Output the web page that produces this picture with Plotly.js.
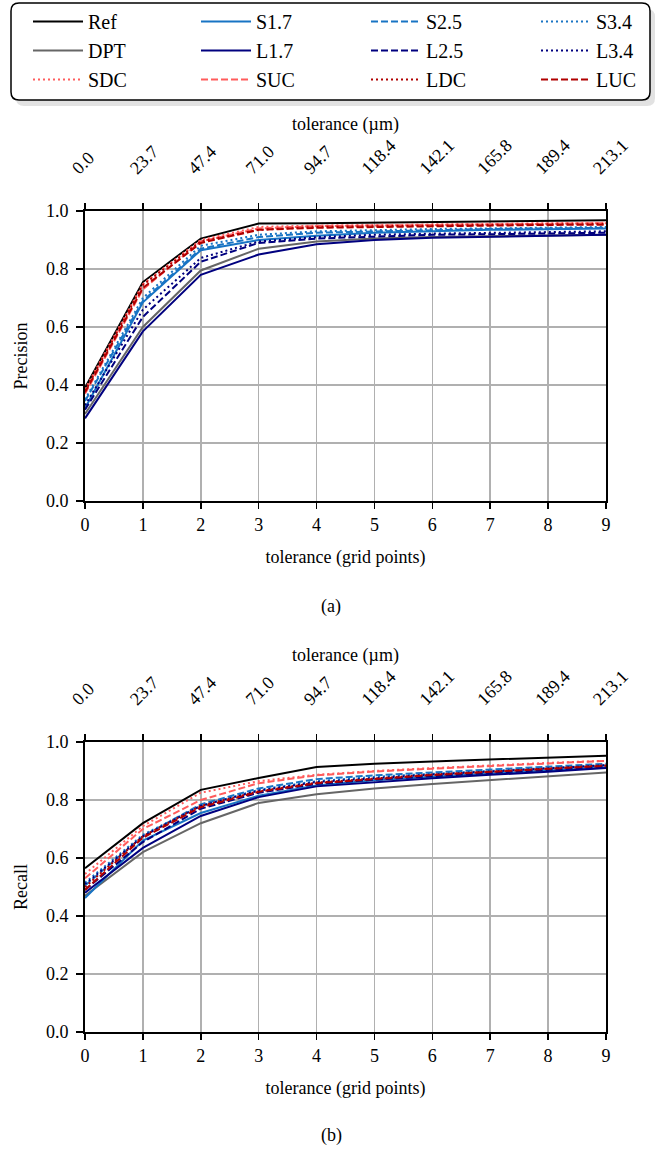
<!DOCTYPE html>
<html>
<head>
<meta charset="utf-8">
<script src="https://cdn.plot.ly/plotly-3.0.1.min.js"></script>
<style>html,body{margin:0;padding:0;background:#fff;}#chart{width:659px;height:1150px;}</style>
</head>
<body>
<div id="chart"></div>
<script>
// ---- data ----
const gridPoints = [0, 1, 2, 3, 4, 5, 6, 7, 8, 9];
const umLabels = ['0.0', '23.7', '47.4', '71.0', '94.7', '118.4', '142.1', '165.8', '189.4', '213.1'];
const yTicks = [0, 0.2, 0.4, 0.6, 0.8, 1.0];
const yTickLabels = ['0.0', '0.2', '0.4', '0.6', '0.8', '1.0'];

// precision (a)
const precRef  = [0.39, 0.755, 0.905, 0.957, 0.958, 0.960, 0.962, 0.964, 0.966, 0.968];
const precDPT  = [0.30, 0.600, 0.795, 0.870, 0.895, 0.905, 0.910, 0.912, 0.915, 0.918];
const precSDC  = [0.385, 0.748, 0.900, 0.945, 0.950, 0.952, 0.955, 0.957, 0.958, 0.960];
const precS17  = [0.32, 0.685, 0.865, 0.900, 0.915, 0.925, 0.930, 0.935, 0.937, 0.940];
const precL17  = [0.285, 0.585, 0.780, 0.850, 0.885, 0.900, 0.908, 0.912, 0.915, 0.918];
const precSUC  = [0.37, 0.730, 0.895, 0.940, 0.948, 0.950, 0.953, 0.955, 0.957, 0.958];
const precS25  = [0.345, 0.690, 0.870, 0.910, 0.925, 0.930, 0.935, 0.938, 0.940, 0.942];
const precL25  = [0.315, 0.635, 0.825, 0.890, 0.905, 0.912, 0.918, 0.920, 0.922, 0.925];
const precLDC  = [0.38, 0.745, 0.895, 0.935, 0.945, 0.948, 0.950, 0.952, 0.954, 0.955];
const precS34  = [0.35, 0.700, 0.880, 0.918, 0.930, 0.935, 0.938, 0.940, 0.943, 0.945];
const precL34  = [0.33, 0.660, 0.838, 0.895, 0.910, 0.918, 0.922, 0.925, 0.928, 0.930];
const precLUC  = [0.375, 0.735, 0.890, 0.935, 0.942, 0.945, 0.948, 0.950, 0.952, 0.953];

// recall (b)
const recRef  = [0.565, 0.720, 0.835, 0.876, 0.914, 0.925, 0.933, 0.940, 0.946, 0.953];
const recDPT  = [0.470, 0.620, 0.720, 0.790, 0.820, 0.840, 0.855, 0.868, 0.880, 0.895];
const recSDC  = [0.545, 0.710, 0.825, 0.865, 0.887, 0.900, 0.910, 0.920, 0.928, 0.935];
const recS17  = [0.462, 0.660, 0.755, 0.815, 0.850, 0.868, 0.880, 0.892, 0.902, 0.912];
const recL17  = [0.480, 0.635, 0.745, 0.810, 0.847, 0.862, 0.875, 0.887, 0.897, 0.910];
const recSUC  = [0.530, 0.700, 0.800, 0.858, 0.885, 0.898, 0.908, 0.918, 0.926, 0.935];
const recS25  = [0.505, 0.675, 0.785, 0.840, 0.872, 0.885, 0.895, 0.905, 0.915, 0.925];
const recL25  = [0.490, 0.655, 0.770, 0.825, 0.855, 0.870, 0.882, 0.893, 0.903, 0.915];
const recLDC  = [0.500, 0.675, 0.780, 0.830, 0.860, 0.875, 0.888, 0.898, 0.908, 0.920];
const recS34  = [0.515, 0.680, 0.780, 0.835, 0.865, 0.880, 0.890, 0.900, 0.910, 0.920];
const recL34  = [0.510, 0.675, 0.780, 0.832, 0.862, 0.876, 0.888, 0.898, 0.908, 0.920];
const recLUC  = [0.490, 0.670, 0.775, 0.828, 0.858, 0.873, 0.886, 0.897, 0.907, 0.918];

// series in plotting order
const seriesNames = ['Ref', 'DPT', 'SDC', 'S1.7', 'L1.7', 'SUC', 'S2.5', 'L2.5', 'LDC', 'S3.4', 'L3.4', 'LUC'];
const precData = [precRef, precDPT, precSDC, precS17, precL17, precSUC, precS25, precL25, precLDC, precS34, precL34, precLUC];
const recData  = [recRef, recDPT, recSDC, recS17, recL17, recSUC, recS25, recL25, recLDC, recS34, recL34, recLUC];

// ---- styles ----
const C_BLUE = '#1874c4', C_NAVY = '#00007f', C_LRED = '#ff5c5c', C_DRED = '#b00000';
const DASH = '7px,3px', DOT = '2px,3px', SOLID = 'solid';
const styles = {
  'Ref':  {color: '#000000', dash: SOLID, legend: 'legend'},
  'DPT':  {color: '#666666', dash: SOLID, legend: 'legend'},
  'SDC':  {color: C_LRED, dash: DOT, legend: 'legend'},
  'S1.7': {color: C_BLUE, dash: SOLID, legend: 'legend2'},
  'L1.7': {color: C_NAVY, dash: SOLID, legend: 'legend2'},
  'SUC':  {color: C_LRED, dash: DASH, legend: 'legend2'},
  'S2.5': {color: C_BLUE, dash: DASH, legend: 'legend3'},
  'L2.5': {color: C_NAVY, dash: DASH, legend: 'legend3'},
  'LDC':  {color: C_DRED, dash: DOT, legend: 'legend3'},
  'S3.4': {color: C_BLUE, dash: DOT, legend: 'legend4'},
  'L3.4': {color: C_NAVY, dash: DOT, legend: 'legend4'},
  'LUC':  {color: C_DRED, dash: DASH, legend: 'legend4'}
};

const W = 659, H = 1150;
const px = v => v / W;
const py = v => 1 - v / H;

const traces = [];
function addSet(data, xa, ya, showLegend) {
  seriesNames.forEach((name, i) => {
    const s = styles[name];
    traces.push({
      type: 'scatter', mode: 'lines', name: name,
      x: gridPoints, y: data[i], xaxis: xa, yaxis: ya,
      line: {color: s.color, dash: s.dash, width: 2},
      legend: s.legend, legendgroup: name, showlegend: showLegend,
      hoverinfo: 'skip'
    });
  });
}
addSet(precData, 'x', 'y', true);
addSet(recData, 'x3', 'y2', false);
// carriers for the top (µm) axes
traces.push({type: 'scatter', mode: 'lines', x: [0, 9], y: [0, 0], xaxis: 'x2', yaxis: 'y', line: {width: 0}, showlegend: false, hoverinfo: 'skip'});
traces.push({type: 'scatter', mode: 'lines', x: [0, 9], y: [0, 0], xaxis: 'x4', yaxis: 'y2', line: {width: 0}, showlegend: false, hoverinfo: 'skip'});

const FONT = 'Liberation Serif, Times New Roman, serif';
const TF = {family: FONT, size: 18, color: '#000'};
const xDomain = [px(85), px(606)];
const gridColor = '#b0b0b0';

function bottomX(anchor) {
  return {
    domain: xDomain, anchor: anchor, range: [0, 9],
    tickvals: gridPoints, ticktext: gridPoints.map(String),
    ticks: 'outside', ticklen: 6, tickwidth: 1.5, tickcolor: '#000',
    showline: true, linecolor: '#000', linewidth: 2, mirror: true,
    showgrid: true, gridcolor: gridColor, gridwidth: 1.6, zeroline: false,
    tickfont: TF,
    title: {text: 'tolerance (grid points)', font: TF, standoff: 17}
  };
}
function topX(overlay, anchor) {
  return {
    domain: xDomain, anchor: anchor, overlaying: overlay, side: 'top', range: [0, 9],
    tickvals: gridPoints, ticktext: umLabels, tickangle: -45,
    ticks: 'outside', ticklen: 6, tickwidth: 1.5, tickcolor: '#000',
    ticklabelstandoff: 18, ticklabelshift: -12,
    showline: true, linecolor: '#000', linewidth: 2,
    showgrid: false, zeroline: false,
    tickfont: TF,
    title: {text: 'tolerance (µm)', font: TF, standoff: 0}
  };
}
function leftY(domain, anchor, label) {
  return {
    domain: domain, anchor: anchor, range: [0, 1],
    tickvals: yTicks, ticktext: yTickLabels,
    ticks: 'outside', ticklen: 7, tickwidth: 1.5, tickcolor: '#000',
    ticklabelstandoff: 4,
    showline: true, linecolor: '#000', linewidth: 2, mirror: true,
    showgrid: true, gridcolor: gridColor, gridwidth: 1.6, zeroline: false,
    tickfont: TF,
    title: {text: label, font: TF, standoff: 14}
  };
}

function roundRect(x0, y0, x1, y1, r) {
  const X = v => px(v), Y = v => py(v);
  return 'M' + X(x0 + r) + ',' + Y(y0) +
    ' L' + X(x1 - r) + ',' + Y(y0) +
    ' Q' + X(x1) + ',' + Y(y0) + ' ' + X(x1) + ',' + Y(y0 + r) +
    ' L' + X(x1) + ',' + Y(y1 - r) +
    ' Q' + X(x1) + ',' + Y(y1) + ' ' + X(x1 - r) + ',' + Y(y1) +
    ' L' + X(x0 + r) + ',' + Y(y1) +
    ' Q' + X(x0) + ',' + Y(y1) + ' ' + X(x0) + ',' + Y(y1 - r) +
    ' L' + X(x0) + ',' + Y(y0 + r) +
    ' Q' + X(x0) + ',' + Y(y0) + ' ' + X(x0 + r) + ',' + Y(y0) + ' Z';
}

function legendCol(xl) {
  return {
    orientation: 'v', x: px(xl), xanchor: 'left', y: py(2), yanchor: 'top',
    itemwidth: 50, tracegroupgap: 7,
    bgcolor: 'rgba(0,0,0,0)', borderwidth: 0,
    font: {family: FONT, size: 20, color: '#000'}, traceorder: 'normal'
  };
}

const layout = {
  width: W, height: H,
  margin: {l: 0, r: 0, t: 0, b: 0},
  paper_bgcolor: '#fff', plot_bgcolor: '#fff',
  font: {family: FONT, color: '#000'},
  xaxis: bottomX('y'),
  xaxis2: topX('x', 'y'),
  yaxis: leftY([py(501), py(211)], 'x', 'Precision'),
  xaxis3: bottomX('y2'),
  xaxis4: topX('x3', 'y2'),
  yaxis2: leftY([py(1032), py(742)], 'x3', 'Recall'),
  legend: legendCol(28),
  legend2: legendCol(196),
  legend3: legendCol(366),
  legend4: legendCol(536),
  shapes: [
    {type: 'path', xref: 'paper', yref: 'paper', path: roundRect(16, 9, 655, 106, 8), fillcolor: '#e2e2e2', line: {width: 0}, layer: 'below'},
    {type: 'path', xref: 'paper', yref: 'paper', path: roundRect(11, 3, 650, 100, 8), fillcolor: '#ffffff', line: {color: '#000', width: 1.5}, layer: 'below'}
  ],
  annotations: [
    {text: '(a)', xref: 'paper', yref: 'paper', x: px(331), y: py(606), yanchor: 'middle', showarrow: false, font: TF},
    {text: '(b)', xref: 'paper', yref: 'paper', x: px(331), y: py(1135), yanchor: 'middle', showarrow: false, font: TF}
  ]
};

Plotly.newPlot('chart', traces, layout, {displayModeBar: false, staticPlot: true});
</script>
</body>
</html>
